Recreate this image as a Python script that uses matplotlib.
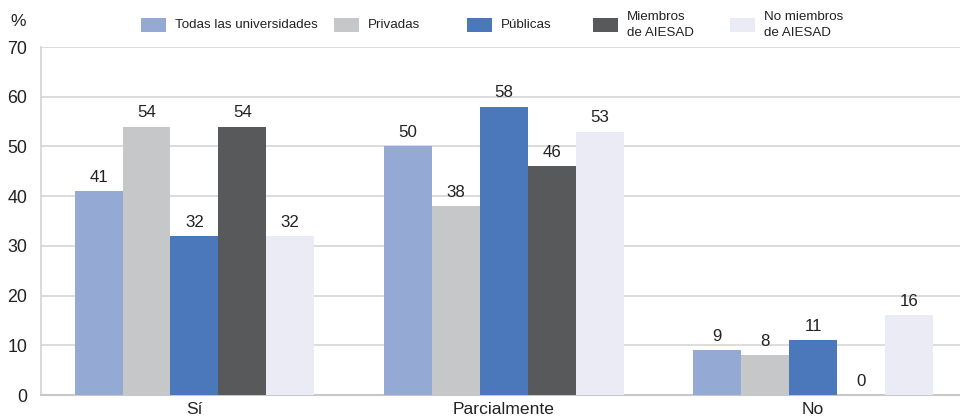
import matplotlib
matplotlib.use("Agg")
import matplotlib.pyplot as plt
from matplotlib.patches import Rectangle
import numpy as np

plt.rcParams['font.family'] = ['Liberation Sans', 'DejaVu Sans']

categories = ["Sí", "Parcialmente", "No"]
series_names = ["Todas las universidades", "Privadas", "Públicas",
                "Miembros\nde AIESAD", "No miembros\nde AIESAD"]
values = {
    "Todas las universidades": [41, 50, 9],
    "Privadas": [54, 38, 8],
    "Públicas": [32, 58, 11],
    "Miembros\nde AIESAD": [54, 46, 0],
    "No miembros\nde AIESAD": [32, 53, 16],
}
colors = ["#94A9D4", "#C6C7C9", "#4A78BB", "#58595B", "#EBEBF5"]
yticks = [0, 10, 20, 30, 40, 50, 60, 70]

fig = plt.figure(figsize=(9.6, 4.18), dpi=100)
ax = fig.add_axes([41/960, 23/418, 1 - 41/960, 348/418])

x = np.arange(len(categories))
w = 0.155
for i, name in enumerate(series_names):
    offs = (i - 2) * w
    vals = values[name]
    ax.bar(x + offs, vals, width=w, color=colors[i], zorder=3, linewidth=0)
    for xi, v in zip(x + offs, vals):
        ax.annotate(str(v), (xi, v), xytext=(0, 4.5), textcoords="offset points",
                    ha="center", va="bottom", fontsize=12.2, color="#222222")

ax.set_xlim(-0.496, 2.475)
ax.set_ylim(0, 70)
ax.set_yticks(yticks)
ax.set_xticks(x)
ax.set_xticklabels(categories, fontsize=12.6, color="#222222")
ax.tick_params(axis="y", length=0, pad=10, labelsize=12.8, labelcolor="#222222")
ax.tick_params(axis="x", length=0, pad=5)
ax.yaxis.grid(True, color="#D6D6D6", linewidth=1.2, zorder=0)
ax.set_axisbelow(True)
for s in ["top", "right"]:
    ax.spines[s].set_visible(False)
ax.spines["left"].set_color("#D3D3D3")
ax.spines["left"].set_linewidth(1.2)
ax.spines["bottom"].set_color("#C8C8C8")
ax.spines["bottom"].set_linewidth(1.5)

fig.text(18/960, 1 - 22/418, "%", ha="center", va="center", fontsize=12.5, color="#222222")

# legend
leg_x = [141, 334, 467, 593, 730]
for i, name in enumerate(series_names):
    fig.add_artist(Rectangle((leg_x[i]/960, 1 - 32/418), 25/960, 14/418,
                             transform=fig.transFigure, color=colors[i], linewidth=0))
    fig.text((leg_x[i] + 34)/960, 1 - 25/418, name, ha="left", va="center",
             fontsize=9.6, color="#222222", linespacing=1.45)

fig.savefig("out.png", dpi=100)
